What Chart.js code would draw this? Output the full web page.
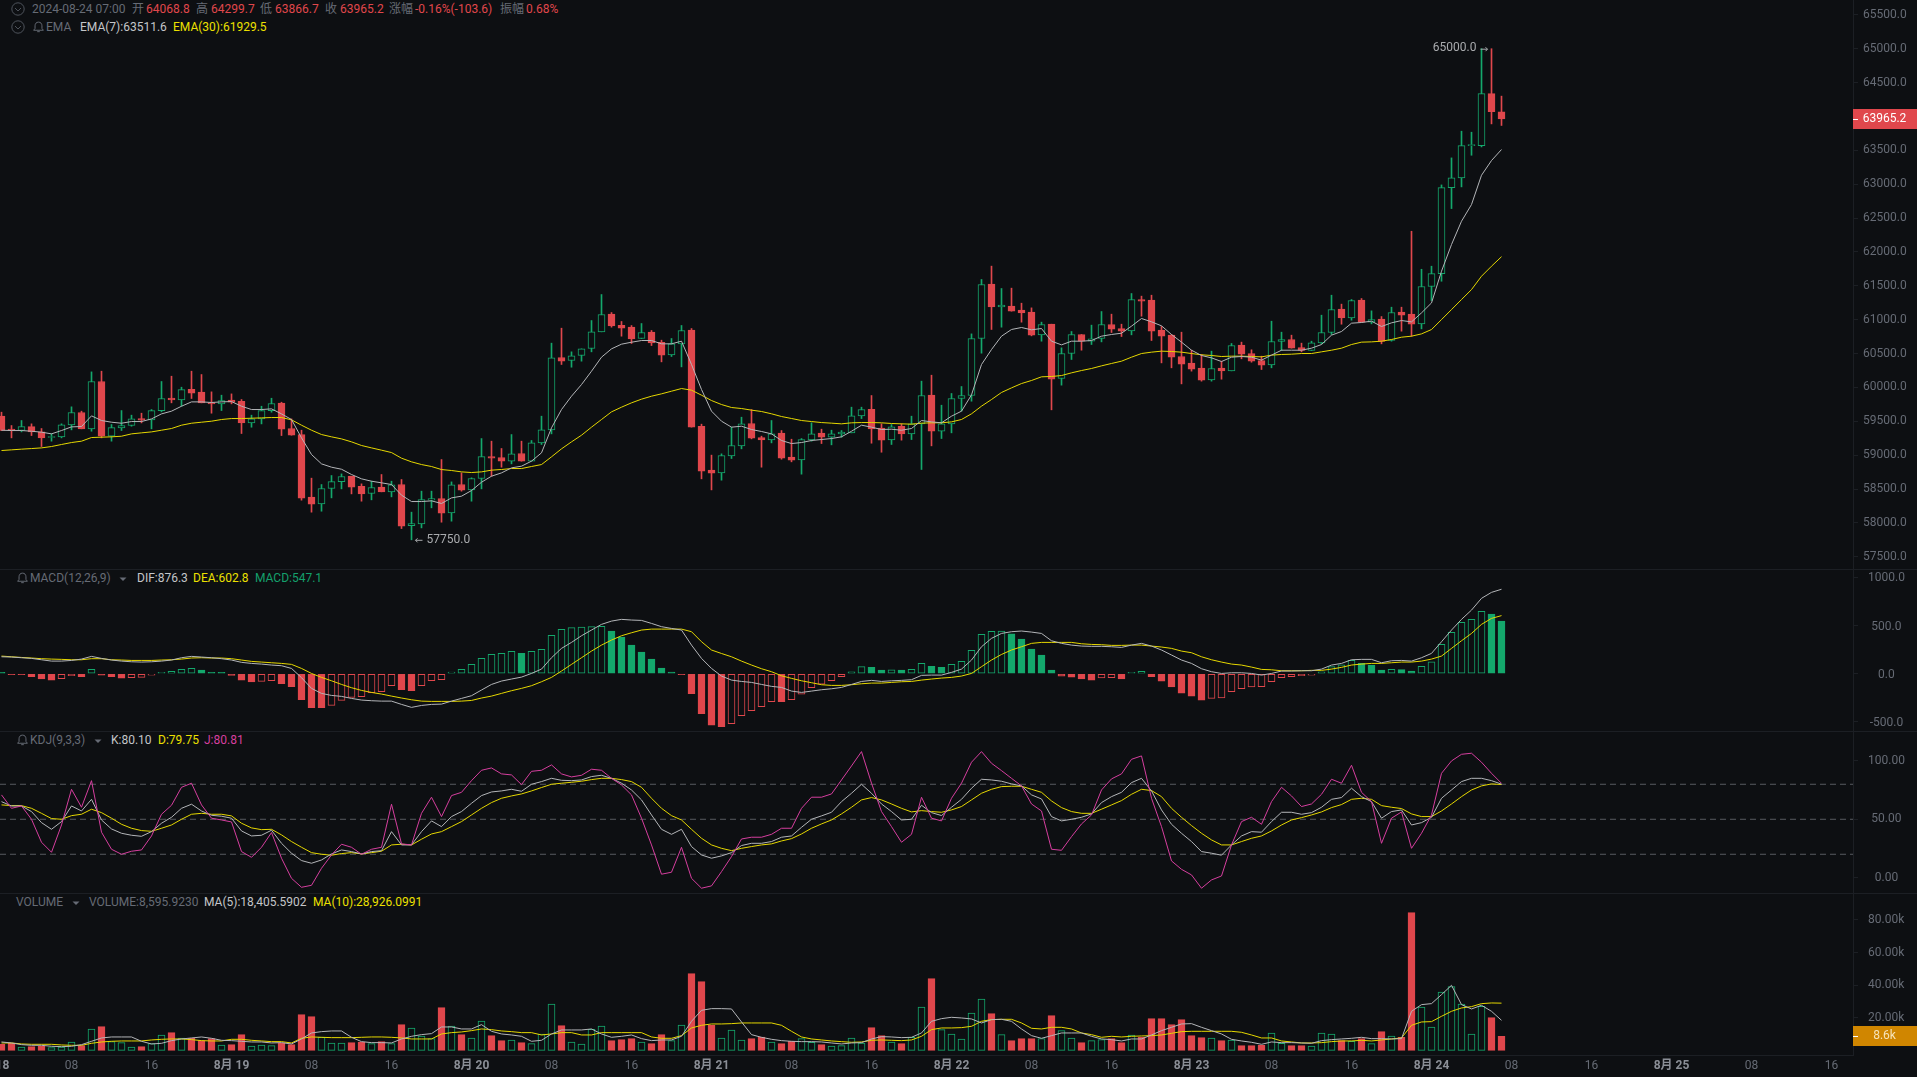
<!DOCTYPE html>
<html>
<head>
<meta charset="utf-8">
<title>BTC K-line</title>
<script src="https://cdn.jsdelivr.net/npm/chart.js@4/dist/chart.umd.min.js"></script>
<style>
    html, body { margin: 0; padding: 0; width: 1917px; height: 1077px; overflow: hidden; background: #0d0f12; }
    canvas { position: absolute; left: 0; }
    .sep { position: absolute; left: 0; width: 1917px; height: 1px; background: #1c1f24; }
    .t {
        position: absolute; white-space: nowrap; transform: translateY(-50%);
        font: 12px Roboto, "Noto Sans CJK SC", sans-serif; color: #666b75; line-height: 14px;
    }
    .red { color: #e0474c; }
    .soft { color: #c4c6c9; }
    .yel { color: #ece000; }
    .grn { color: #14a06c; }
    .pink { color: #d63f9f; }
    .ico { position: absolute; transform: translateY(-50%); }
</style>
</head>
<body>
<svg width="0" height="0" style="position:absolute">
    <symbol id="bell" viewBox="0 0 12 12"><path d="M6 1.5c-2 0-3.2 1.4-3.2 3.4v2.4L1.5 9h9L9.2 7.3V4.9C9.2 2.9 8 1.5 6 1.5zM4.8 10.3h2.4" fill="none" stroke="#666b75" stroke-width="0.9"/></symbol>
    <symbol id="fold" viewBox="0 0 14 14"><circle cx="7" cy="7" r="6.2" fill="none" stroke="#555a63" stroke-width="0.9"/><path d="M4 6l3 3 3-3" fill="none" stroke="#555a63" stroke-width="0.9"/></symbol>
    <symbol id="drop" viewBox="0 0 8 8"><path d="M0.5 2.5h7L4 6z" fill="#666b75"/></symbol>
</svg>

<svg class="ico" style="left:11px;top:9px" width="14" height="14"><use href="#fold"/></svg>
<span class="t" style="left:32px;top:9px">2024-08-24 07:00</span>
<span class="t" style="left:132px;top:9px">开</span><span class="t red" style="left:146px;top:9px">64068.8</span>
<span class="t" style="left:196px;top:9px">高</span><span class="t red" style="left:211px;top:9px">64299.7</span>
<span class="t" style="left:260px;top:9px">低</span><span class="t red" style="left:275px;top:9px">63866.7</span>
<span class="t" style="left:325px;top:9px">收</span><span class="t red" style="left:340px;top:9px">63965.2</span>
<span class="t" style="left:389px;top:9px">涨幅</span><span class="t red" style="left:415px;top:9px">-0.16%(-103.6)</span>
<span class="t" style="left:500px;top:9px">振幅</span><span class="t red" style="left:526px;top:9px">0.68%</span>

<svg class="ico" style="left:11px;top:27px" width="14" height="14"><use href="#fold"/></svg>
<svg class="ico" style="left:32px;top:27px" width="13" height="13"><use href="#bell"/></svg>
<span class="t" style="left:46px;top:27px">EMA</span>
<span class="t soft" style="left:80px;top:27px">EMA(7):63511.6</span>
<span class="t yel" style="left:173px;top:27px">EMA(30):61929.5</span>

<svg class="ico" style="left:16px;top:578px" width="13" height="13"><use href="#bell"/></svg>
<span class="t" style="left:30px;top:578px">MACD(12,26,9)</span>
<svg class="ico" style="left:119px;top:579px" width="8" height="8"><use href="#drop"/></svg>
<span class="t soft" style="left:137px;top:578px">DIF:876.3</span>
<span class="t yel" style="left:193px;top:578px">DEA:602.8</span>
<span class="t grn" style="left:255px;top:578px">MACD:547.1</span>

<svg class="ico" style="left:16px;top:740px" width="13" height="13"><use href="#bell"/></svg>
<span class="t" style="left:30px;top:740px">KDJ(9,3,3)</span>
<svg class="ico" style="left:94px;top:741px" width="8" height="8"><use href="#drop"/></svg>
<span class="t soft" style="left:111px;top:740px">K:80.10</span>
<span class="t yel" style="left:158px;top:740px">D:79.75</span>
<span class="t pink" style="left:204px;top:740px">J:80.81</span>

<span class="t" style="left:16px;top:902px">VOLUME</span>
<svg class="ico" style="left:72px;top:903px" width="8" height="8"><use href="#drop"/></svg>
<span class="t" style="left:89px;top:902px">VOLUME:8,595.9230</span>
<span class="t soft" style="left:204px;top:902px">MA(5):18,405.5902</span>
<span class="t yel" style="left:313px;top:902px">MA(10):28,926.0991</span>

<div class="sep" style="top:569px"></div>
<div class="sep" style="top:731px"></div>
<div class="sep" style="top:893px"></div>

<canvas id="priceChart" width="1917" height="569" style="top:0"></canvas>
<canvas id="macdChart" width="1917" height="161" style="top:570px"></canvas>
<canvas id="kdjChart" width="1917" height="161" style="top:732px"></canvas>
<canvas id="volumeChart" width="1917" height="183" style="top:894px"></canvas>

<script>
// Hourly candles, index 0 = 2024-08-18 01:00, last index = 2024-08-24 07:00
const candleOpen = [
    59575,59383,59363,59422,59343,59260,59270,59447,59629,59388,
    60087,59279,59403,59437,59540,59521,59658,59841,59816,59973,
    59929,59776,59757,59811,59796,59476,59535,59658,59767,59393,
    59304,58379,58281,58507,58610,58689,58541,58433,58527,58458,
    58566,57960,57985,58335,58360,58148,58566,58487,58655,58979,
    58965,58911,59024,58911,59181,59373,60441,60397,60471,60574,
    60820,61081,60918,60889,60722,60815,60667,60481,60643,60845,
    59427,58778,58738,58989,59137,59467,59260,59225,59324,58970,
    58930,59225,59324,59265,59314,59329,59580,59678,59398,59225,
    59427,59314,59462,59885,59353,59462,59836,59880,60722,61524,
    61189,61199,61140,61110,60776,60933,60131,60500,60781,60682,
    60722,60928,60869,60835,61297,61288,60845,60771,60456,60358,
    60284,60112,60284,60244,60623,60500,60397,60333,60677,60707,
    60589,60544,60658,60810,61155,61027,61288,60963,61007,60692,
    61110,61081,60937,61489,61680,62950,63093,63570,63570,64338,
    64068.8
];
const candleHigh = [
    59634,59437,59511,59462,59393,59314,59462,59713,59649,60229,
    60239,59452,59658,59590,59619,59673,60087,60165,60003,60239,
    60190,59934,59885,59904,59821,59590,59722,59840,59781,59535,
    59368,58660,58566,58699,58723,58689,58576,58615,58714,58615,
    58640,58158,58468,58468,58935,58605,58738,58665,59245,59206,
    59098,59304,59206,59216,59575,60653,60874,60525,60569,60987,
    61371,61105,60973,60913,60943,60840,60697,60722,60914,60869,
    59457,59000,59019,59413,59560,59673,59280,59511,59363,59235,
    59245,59477,59383,59368,59363,59708,59708,59880,59462,59452,
    59462,59575,60092,60180,59737,59910,60013,60790,61593,61790,
    61460,61465,61243,61174,60963,60933,60584,60825,60781,60919,
    61120,61081,60933,61386,61347,61361,60899,60781,60815,60549,
    60486,60535,60387,60648,60668,60555,60461,60977,60815,60771,
    60653,60682,61066,61361,61229,61297,61312,61130,61046,61184,
    61184,62305,61744,61789,62989,63388,63782,63767,65000,65000,
    64299.7
];
const candleLow = [
    59363,59255,59343,59289,59127,59206,59255,59373,59388,59353,
    59255,59206,59363,59427,59476,59388,59639,59772,59723,59836,
    59772,59619,59658,59757,59319,59412,59461,59634,59289,59294,
    58335,58158,58172,58369,58502,58428,58320,58340,58458,58384,
    57916,57750,57926,58222,58010,58025,58468,58320,58502,58689,
    58822,58871,58911,58911,59157,59314,60338,60298,60387,60525,
    60820,60889,60756,60648,60722,60618,60377,60456,60303,59413,
    58650,58487,58630,58950,59093,59240,58822,59181,58940,58901,
    58719,59206,59171,59152,59265,59329,59540,59176,59043,59157,
    59221,59230,58788,59137,59245,59329,59649,59796,60505,60855,
    60889,61125,60963,60761,60682,59669,60033,60412,60549,60633,
    60672,60810,60751,60776,61051,60692,60362,60289,60052,60240,
    60092,60092,60121,60244,60422,60372,60264,60289,60544,60579,
    60525,60544,60643,60781,60933,60992,60963,60938,60643,60682,
    60830,60755,60864,61282,61567,62640,62960,63427,63550,63890,
    63866.7
];
const candleClose = [
    59363,59363,59422,59343,59255,59275,59447,59629,59388,60087,
    59279,59407,59437,59535,59516,59658,59836,59816,59968,59914,
    59772,59757,59806,59781,59476,59535,59658,59762,59383,59294,
    58364,58276,58507,58610,58684,58527,58428,58522,58458,58561,
    57951,57990,58345,58360,58143,58561,58482,58655,58979,58955,
    58911,59019,58911,59181,59373,60436,60387,60466,60569,60820,
    61076,60909,60874,60717,60810,60658,60476,60643,60840,59413,
    58763,58733,58994,59142,59462,59250,59225,59314,58955,58925,
    59230,59314,59265,59314,59339,59580,59673,59388,59221,59417,
    59314,59462,59880,59353,59462,59836,59880,60722,61519,61189,
    61214,61125,61101,60771,60928,60121,60500,60781,60682,60717,
    60928,60860,60830,61297,61273,60830,60756,60446,60343,60269,
    60107,60279,60244,60618,60490,60387,60328,60677,60707,60579,
    60544,60658,60810,61150,61027,61283,60963,61002,60677,61106,
    61066,60933,61489,61680,62950,63093,63570,63585,64338,64068.8,
    63965.2
];
const ema7 = [
    59368,59363,59363,59353,59339,59314,59363,59417,59422,59580,
    59511,59486,59471,59496,59496,59535,59609,59649,59722,59786,
    59786,59777,59786,59791,59722,59673,59673,59683,59609,59526,
    59255,59009,58871,58822,58792,58714,58650,58615,58591,58566,
    58409,58315,58315,58325,58286,58369,58394,58477,58600,58689,
    58738,58812,58837,58911,59034,59403,59673,59870,60042,60239,
    60446,60569,60638,60667,60692,60692,60643,60643,60682,60338,
    59969,59649,59501,59413,59427,59378,59349,59314,59216,59171,
    59186,59216,59231,59245,59270,59353,59442,59413,59378,59383,
    59368,59393,59511,59491,59477,59575,59649,59890,60338,60559,
    60756,60855,60884,60850,60869,60682,60628,60682,60682,60692,
    60756,60781,60800,60904,61017,60968,60909,60781,60668,60549,
    60471,60436,60382,60446,60456,60446,60402,60476,60549,60549,
    60549,60579,60633,60771,60825,60948,60958,60978,60899,60953,
    60987,60967,61100,61247,61715,62109,62453,62699,63132,63349,
    63511.6
];
const ema30 = [
    59068,59078,59088,59097,59107,59127,59157,59186,59206,59260,
    59265,59270,59279,59314,59329,59343,59368,59393,59442,59471,
    59486,59501,59526,59540,59540,59545,59550,59555,59555,59521,
    59442,59368,59304,59270,59240,59196,59142,59107,59073,59038,
    58955,58901,58861,58832,58787,58773,58753,58743,58753,58778,
    58788,58802,58802,58832,58861,58975,59093,59196,59294,59413,
    59526,59639,59708,59772,59826,59870,59905,59944,59983,59959,
    59885,59806,59747,59703,59688,59664,59644,59610,59570,59541,
    59511,59496,59481,59472,59462,59477,59481,59481,59477,59467,
    59462,59457,59472,59477,59477,59491,59526,59610,59723,59821,
    59925,59993,60057,60102,60156,60161,60175,60215,60249,60279,
    60318,60353,60387,60446,60500,60520,60535,60530,60520,60500,
    60481,60471,60456,60461,60461,60456,60451,60476,60486,60490,
    60500,60500,60525,60549,60579,60633,60668,60672,60682,60707,
    60741,60756,60790,60854,61001,61149,61297,61444,61641,61789,
    61929.5
];
const dif = [
    176,173,166,159,145,131,131,138,152,180,
    159,142,131,124,121,124,131,142,166,180,
    173,166,156,142,118,107,100,90,83,55,
    -41,-152,-204,-225,-235,-256,-273,-280,-284,-284,
    -318,-349,-329,-318,-315,-284,-256,-228,-169,-111,
    -76,-55,-35,3,48,166,263,325,394,453,
    512,546,564,557,553,522,488,470,453,297,
    159,55,-24,-66,-80,-90,-111,-131,-142,-180,
    -194,-180,-166,-156,-142,-111,-80,-69,-80,-73,
    -69,-62,-17,-14,-14,14,48,142,280,367,
    418,436,443,432,418,342,315,297,287,284,
    284,280,273,297,315,287,246,194,142,107,
    52,21,3,10,10,3,-14,3,28,28,
    31,31,48,90,107,145,149,149,114,135,
    138,131,166,211,332,453,564,660,782,844,
    876.3
];
const dea = [
    183,176,169,163,156,152,149,145,145,156,
    156,145,142,138,138,138,142,145,152,163,
    166,163,163,156,142,128,121,114,107,97,
    55,3,-38,-73,-111,-145,-173,-194,-211,-232,
    -252,-270,-284,-287,-287,-287,-284,-277,-252,-232,
    -204,-176,-152,-124,-83,-38,28,97,166,235,
    297,349,394,425,453,463,463,463,463,436,
    332,246,210,176,131,90,52,21,-21,-48,
    -73,-93,-114,-121,-121,-114,-104,-97,-97,-90,
    -83,-80,-66,-55,-45,-38,-24,3,73,142,
    200,246,280,315,325,325,325,325,311,304,
    301,294,294,297,297,287,277,263,235,218,
    176,145,121,100,90,69,45,41,31,31,
    31,35,35,48,66,90,100,107,107,114,
    121,121,131,152,183,263,342,418,512,574,
    602.8
];
const macdHist = [
    14,-10,-10,-31,-55,-66,-52,-21,-31,45,
    -14,-31,-45,-41,-38,-14,14,24,45,55,
    38,14,14,-17,-66,-86,-80,-73,-104,-135,
    -270,-353,-353,-329,-277,-245,-239,-197,-187,-124,
    -166,-176,-124,-73,-62,17,45,97,159,200,
    211,232,211,232,252,398,460,478,484,488,
    491,443,380,297,225,152,59,17,-10,-207,
    -415,-533,-550,-519,-436,-384,-342,-290,-290,-270,
    -211,-145,-107,-73,-31,21,73,66,38,41,
    38,45,107,76,66,97,128,242,408,439,
    443,415,360,256,194,38,-24,-35,-55,-66,
    -44,-41,-55,14,24,-31,-76,-138,-201,-232,
    -273,-256,-252,-187,-156,-138,-135,-83,-41,-31,
    -21,-14,21,73,93,138,107,90,38,45,
    42,28,76,124,304,429,533,564,647,619,
    547.1
];
const kdjK = [
    65.1,61.4,61.4,56.6,47.1,41.4,48.0,61.4,57.1,67.1,
    49.4,41.7,38.0,36.3,35.4,39.4,46.6,51.7,59.4,62.9,
    57.1,53.4,52.6,50.9,40.0,35.7,36.3,40.6,29.4,20.9,
    14.6,12.3,15.1,20.3,23.7,22.3,20.3,22.3,23.1,39.4,
    28.0,28.0,39.4,48.6,43.7,52.3,56.6,63.7,70.3,73.4,
    74.3,75.7,74.0,80.0,82.3,85.1,83.4,83.1,83.7,86.6,
    87.7,85.1,80.9,75.1,66.6,53.7,41.4,37.1,41.4,26.6,
    19.4,16.6,18.6,21.4,27.5,29.4,29.4,30.9,34.6,35.7,
    43.1,50.0,52.9,56.0,65.1,72.3,80.0,72.3,63.1,56.6,
    49.4,50.0,62.0,55.7,53.2,60.3,67.1,76.6,84.3,83.7,
    82.6,80.3,78.6,70.9,67.4,52.3,48.6,50.0,51.7,54.6,
    64.3,69.4,73.1,81.4,85.1,74.3,58.0,45.7,38.0,30.9,
    22.3,20.9,19.2,28.0,35.7,39.4,38.9,48.0,56.0,56.0,
    54.3,55.7,60.3,67.1,68.6,76.6,69.4,65.1,50.9,56.6,
    58.0,45.1,47.1,51.7,68.0,75.1,82.3,85.1,85.1,83.1,
    80.10
];
const kdjD = [
    62.3,61.7,61.7,59.4,55.1,50.6,50.0,53.1,54.3,58.6,
    55.7,50.9,45.7,42.3,40.3,39.7,42.3,45.1,50.0,54.3,
    55.1,54.3,54.3,52.9,46.6,42.6,41.1,41.4,36.6,30.9,
    26.0,21.4,20.0,19.2,20.6,21.4,20.3,21.4,22.6,28.0,
    28.6,28.0,32.9,37.4,39.4,43.7,48.0,53.7,59.4,64.3,
    68.0,70.0,71.7,74.3,77.2,80.0,80.9,81.7,82.6,84.0,
    85.1,85.1,84.0,82.3,77.4,68.0,59.4,53.1,49.4,41.4,
    33.7,28.0,25.1,23.1,25.1,26.6,28.0,28.9,31.4,33.4,
    37.4,42.3,46.0,49.4,54.6,60.3,66.6,68.6,66.6,63.1,
    59.4,56.3,57.4,56.6,56.0,58.0,60.9,66.6,72.3,75.7,
    78.0,78.3,78.3,75.7,73.1,65.7,60.0,56.6,55.1,55.1,
    58.6,62.3,66.0,71.4,75.7,74.6,69.4,59.4,51.7,44.6,
    38.0,32.3,28.0,28.0,30.9,33.7,35.7,40.0,45.1,49.4,
    51.4,53.7,56.3,60.0,62.6,67.1,68.0,67.1,61.7,60.3,
    59.2,54.6,52.3,52.3,57.1,63.1,69.4,75.1,78.6,80.3,
    79.75
];
const kdjJ = [
    70.9,59.4,61.4,50.0,30.3,21.7,45.1,75.7,60.3,83.1,
    38.9,24.3,20.0,22.6,23.7,35.7,54.3,62.0,77.4,80.9,
    62.3,50.9,49.4,47.7,22.3,17.4,26.0,38.6,16.6,-0.6,
    -8.3,-6.6,8.0,19.4,28.6,26.0,20.0,24.3,26.0,62.9,
    28.9,28.0,55.1,68.9,52.3,70.3,73.1,83.1,92.0,94.0,
    88.9,88.0,79.7,91.1,92.0,96.6,88.9,86.3,87.7,92.9,
    92.0,85.1,79.4,70.9,50.9,28.0,2.9,4.6,26.0,-0.6,
    -9.1,-7.1,5.1,18.0,33.1,34.6,34.6,37.1,42.3,42.3,
    59.4,68.9,68.9,71.7,83.7,95.7,108.0,80.9,56.6,43.7,
    30.3,37.1,68.9,50.9,48.6,68.0,80.9,98.9,108.0,98.0,
    91.7,85.1,78.6,63.1,57.1,24.3,23.4,35.1,46.0,53.7,
    75.1,84.6,88.9,101.4,104.3,68.0,43.7,14.3,7.1,2.3,
    -9.1,-2.0,1.4,28.0,48.0,51.7,45.7,65.1,77.4,70.0,
    60.9,63.1,71.4,84.3,80.9,96.3,73.1,65.1,29.4,50.9,
    56.3,25.1,38.0,53.7,89.4,100.0,105.7,106.6,98.9,89.4,
    80.81
];
const volume = [
    3681,4499,2045,2250,2454,1636,2045,5113,2863,13088,
    14520,5317,4704,2045,2250,4090,9407,10839,7567,7362,
    5931,7158,3272,3477,9612,2659,3272,2863,4499,3477,
    21882,20655,7976,4499,4499,4704,5113,4090,5317,4090,
    15747,13702,8794,7158,26176,14929,9612,7567,17996,8998,
    5931,6340,4704,4090,10021,28426,15133,5113,3886,12884,
    14929,5931,6544,7158,5113,4090,9612,5931,15542,47035,
    42127,15338,7567,12475,6340,7158,8180,5113,4090,5522,
    7158,4908,3477,2659,2863,7567,4499,13906,8998,5113,
    4090,7976,26585,43968,12679,10021,6953,22904,31493,22495,
    9612,5931,7158,7158,7158,21268,12066,7567,4704,5931,
    6544,7158,4704,9407,7976,19428,19428,15747,18814,8998,
    7771,7567,5931,6340,2863,2863,3068,10634,4295,2863,
    2863,2659,10634,10021,5931,5522,7158,4090,11452,8794,
    7976,84459,26585,14315,35788,39060,28426,10021,26994,20041,
    8595.9
];
const volumeMa5 = [
    5113,4499,3477,3068,3068,2454,2250,2454,3477,5522,
    7567,8180,8180,8180,5522,3886,4295,5931,6953,7567,
    8180,7362,6135,5931,5522,5113,5113,4499,4704,3886,
    6953,10634,11452,11861,11861,7976,5317,4704,4704,4499,
    6953,8589,9612,10225,14315,14315,13088,13088,15747,11657,
    10021,9407,8589,5522,6135,10021,12475,12475,12475,13088,
    10021,7976,8589,9407,7158,5931,6340,6340,8589,17792,
    24540,25563,25563,25358,17383,9612,7976,6749,5931,5522,
    5317,5317,5113,4499,3886,4499,4704,6953,8385,8180,
    7771,7976,10634,17792,19428,20246,19837,19223,16769,18814,
    19019,17792,13088,8998,7362,8998,10634,10634,10634,8589,
    6953,6544,5726,6953,6953,9407,12066,14111,16156,16360,
    14111,12066,10021,6749,5726,4908,3681,5113,4704,4704,
    4499,4295,5931,6544,6953,7362,7976,7158,7158,6953,
    7158,23927,28017,28630,34152,39878,28017,25358,27608,23927,
    18405.6
];
const volumeMa10 = [
    4499,4499,3886,3681,3681,3681,3272,3068,3068,4295,
    5113,5522,5726,5726,5726,6340,6749,6953,6953,6544,
    5931,5726,5726,6749,6749,6135,5726,5317,5317,4499,
    7362,8180,7976,7771,7771,7771,7976,8180,8180,7976,
    7567,6953,6953,6953,10021,10839,11248,12066,13088,12679,
    11861,11452,10839,10839,9407,10021,10839,10839,9407,9407,
    10839,10839,10839,10839,10839,8180,7362,7362,8998,13702,
    15338,16156,16156,16360,16769,16769,16769,16769,15338,11657,
    8180,6953,6340,5726,5317,4908,5113,6135,6340,6135,
    5931,6340,8589,12679,13702,13702,13906,14724,17792,18814,
    19019,19019,16769,13497,13088,14111,14111,13088,10634,9612,
    7976,8589,8180,8589,8794,8998,9407,10430,11452,11657,
    11657,11657,11657,11657,11043,9407,7567,7567,5726,5113,
    4499,4499,4704,5317,5726,5726,6135,5726,6340,6953,
    7567,15338,17383,17587,20859,23927,25972,26790,28630,29039,
    28926.1
];

const priceTicks = [57500,58000,58500,59000,59500,60000,60500,61000,61500,62000,62500,63000,63500,64000,64500,65000,65500];
const macdTicks = [-500,0,500,1000];
const kdjTicks = [0,50,100];
const kdjGuides = [20,50,80];
const volumeTicks = [20000,40000,60000,80000];
const timeTicks = [-1,7,15,23,31,39,47,55,63,71,79,87,95,103,111,119,127,135,143,151,159,167,175,183];
const timeLabels = ['8月 18','08','16','8月 19','08','16','8月 20','08','16','8月 21','08','16','8月 22','08','16','8月 23','08','16','8月 24','08','16','8月 25','08','16'];
const highMark = { index: 149, value: 65000 };
const lowMark = { index: 41, value: 57750 };

const colors = {
    bg: '#0d0f12',
    up: '#14a86c',
    down: '#e0474c',
    axis: '#1c1f24',
    tick: '#666b75',
    date: '#8b8f97',
    grey: '#b4b6b9',
    yellow: '#e6d800',
    pink: '#d63f9f',
    guide: '#565a60',
    mark: '#a9abae',
    volumeTag: '#d08600',
    volumeTagText: '#f6e3b8'
};

Chart.defaults.font.family = 'Roboto, "Noto Sans CJK SC", sans-serif';
Chart.defaults.font.size = 12;

// every panel shares the same index axis, one candle = 10px
const xMin = -0.15;
const xMax = 185.15;

const points = (values) => values.map((y, x) => ({ x, y }));
const lastOf = (values) => values[values.length - 1];
const isDateTick = (ctx) => (timeLabels[ctx.index] || '').includes('月');

function lineSet(values, color) {
    return {
        type: 'line',
        data: points(values),
        borderColor: color,
        borderWidth: 1,
        pointRadius: 0,
        tension: 0,
        order: 0
    };
}

function yAxis(ticks, min, max, format, padding, labelOffset) {
    return {
        position: 'right',
        min,
        max,
        afterBuildTicks: (scale) => { scale.ticks = ticks.map((value) => ({ value })); },
        afterFit: (scale) => {
            scale.width = 64;
            scale.paddingTop = 0;
            scale.paddingBottom = 0;
        },
        border: { color: colors.axis },
        grid: { drawOnChartArea: false, tickLength: 5, tickColor: colors.axis },
        ticks: {
            color: colors.tick,
            padding,
            crossAlign: 'center',
            autoSkip: false,
            labelOffset,
            callback: format
        }
    };
}

function baseOptions(y) {
    return {
        responsive: false,
        animation: false,
        events: [],
        layout: { padding: 0 },
        plugins: { legend: { display: false }, tooltip: { enabled: false } },
        datasets: { bar: { grouped: false } },
        scales: {
            x: { type: 'linear', display: false, offset: false, min: xMin, max: xMax },
            y
        }
    };
}

function drawTag(chart, value, text, fill, textColor) {
    const { ctx, chartArea, scales } = chart;
    const y = scales.y.getPixelForValue(value);
    ctx.save();
    ctx.fillStyle = fill;
    ctx.fillRect(chartArea.right, Math.round(y) - 10, chart.width - chartArea.right, 20);
    ctx.fillStyle = '#ffffff';
    ctx.fillRect(chartArea.right, Math.round(y), 5, 1);
    ctx.fillStyle = textColor;
    ctx.font = '12px Roboto';
    ctx.textAlign = 'center';
    ctx.textBaseline = 'middle';
    ctx.fillText(text, 1884.5, y);
    ctx.restore();
}

const priceMarks = {
    id: 'priceMarks',
    afterDraw(chart) {
        const { ctx, scales } = chart;
        ctx.save();
        ctx.font = '12px Roboto';
        ctx.fillStyle = colors.mark;
        ctx.strokeStyle = colors.mark;
        ctx.lineWidth = 1;
        ctx.textBaseline = 'middle';

        let x = scales.x.getPixelForValue(highMark.index);
        let y = scales.y.getPixelForValue(highMark.value);
        ctx.textAlign = 'right';
        ctx.fillText(highMark.value.toFixed(1), x - 15, y - 1);
        ctx.beginPath();
        ctx.moveTo(x - 11, y + 0.5); ctx.lineTo(x - 4, y + 0.5);
        ctx.moveTo(x - 6, y - 1.5); ctx.lineTo(x - 4, y + 0.5); ctx.lineTo(x - 6, y + 2.5);
        ctx.stroke();

        x = scales.x.getPixelForValue(lowMark.index);
        y = scales.y.getPixelForValue(lowMark.value);
        ctx.textAlign = 'left';
        ctx.fillText(lowMark.value.toFixed(1), x + 15, y);
        ctx.beginPath();
        ctx.moveTo(x + 11, y + 0.5); ctx.lineTo(x + 4, y + 0.5);
        ctx.moveTo(x + 6, y - 1.5); ctx.lineTo(x + 4, y + 0.5); ctx.lineTo(x + 6, y + 2.5);
        ctx.stroke();
        ctx.restore();

        const close = lastOf(candleClose);
        drawTag(chart, close, close.toFixed(1), colors.down, '#ffffff');
    }
};

const volumeTag = {
    id: 'volumeTag',
    afterDraw(chart) {
        const last = lastOf(volume);
        drawTag(chart, last, (last / 1000).toFixed(1) + 'k', colors.volumeTag, colors.volumeTagText);
    }
};

const candleColor = (i) => (candleClose[i] >= candleOpen[i] ? colors.up : colors.down);

new Chart(document.getElementById('priceChart'), {
    type: 'bar',
    data: {
        datasets: [
            lineSet(ema7, colors.grey),
            lineSet(ema30, colors.yellow),
            {
                // bodies, hollow when the candle closed up
                data: candleOpen.map((o, x) => ({ x, y: [o, candleClose[x]] })),
                barThickness: 7,
                borderWidth: 1,
                borderSkipped: false,
                borderColor: candleClose.map((c, i) => candleColor(i)),
                backgroundColor: candleClose.map((c, i) => (c >= candleOpen[i] ? colors.bg : colors.down)),
                order: 1
            },
            {
                // wicks
                data: candleLow.map((l, x) => ({ x, y: [l, candleHigh[x]] })),
                barThickness: 1,
                borderWidth: 0,
                backgroundColor: candleClose.map((c, i) => candleColor(i)),
                order: 2
            }
        ]
    },
    options: baseOptions(yAxis(priceTicks, 57319, 65719, (v) => v.toFixed(1), 5, 0)),
    plugins: [priceMarks]
});

new Chart(document.getElementById('macdChart'), {
    type: 'bar',
    data: {
        datasets: [
            lineSet(dif, colors.grey),
            lineSet(dea, colors.yellow),
            {
                data: points(macdHist),
                barThickness: 7,
                borderWidth: 1,
                borderSkipped: false,
                borderColor: macdHist.map((v) => (v >= 0 ? colors.up : colors.down)),
                // hollow while the histogram is rising
                backgroundColor: macdHist.map((v, i) => {
                    if (i > 0 && v > macdHist[i - 1]) return colors.bg;
                    return v >= 0 ? colors.up : colors.down;
                }),
                order: 1
            }
        ]
    },
    options: baseOptions(yAxis(macdTicks, -594, 1076, (v) => v.toFixed(1), 10, 1))
});

new Chart(document.getElementById('kdjChart'), {
    type: 'line',
    data: {
        datasets: [
            ...kdjGuides.map((level) => ({
                data: [{ x: xMin, y: level }, { x: xMax, y: level }],
                borderColor: colors.guide,
                borderWidth: 1,
                borderDash: [6, 4],
                pointRadius: 0,
                order: 3
            })),
            lineSet(kdjJ, colors.pink),
            lineSet(kdjK, colors.grey),
            lineSet(kdjD, colors.yellow)
        ]
    },
    options: baseOptions(yAxis(kdjTicks, -13.2, 124.8, (v) => v.toFixed(2), 10, 0))
});

const volumeOptions = baseOptions(yAxis(volumeTicks, -2883, 95890, (v) => (v / 1000).toFixed(2) + 'k', 10, 0));
volumeOptions.scales.x = {
    type: 'linear',
    offset: false,
    min: xMin,
    max: xMax,
    afterBuildTicks: (scale) => { scale.ticks = timeTicks.map((value) => ({ value })); },
    afterFit: (scale) => {
        scale.height = 22;
        scale.paddingLeft = 0;
        scale.paddingRight = 0;
    },
    border: { color: colors.axis },
    grid: { display: false, drawTicks: false },
    ticks: {
        autoSkip: false,
        maxRotation: 0,
        minRotation: 0,
        padding: 4,
        callback: (value, index) => timeLabels[index],
        color: (ctx) => (isDateTick(ctx) ? colors.date : colors.tick),
        font: (ctx) => ({ size: 12, weight: isDateTick(ctx) ? 'bold' : 'normal' })
    }
};

new Chart(document.getElementById('volumeChart'), {
    type: 'bar',
    data: {
        datasets: [
            lineSet(volumeMa5, colors.grey),
            lineSet(volumeMa10, colors.yellow),
            {
                data: points(volume),
                barThickness: 7,
                borderWidth: 1,
                borderSkipped: false,
                borderColor: volume.map((v, i) => candleColor(i)),
                backgroundColor: volume.map((v, i) => (candleClose[i] >= candleOpen[i] ? colors.bg : colors.down)),
                order: 1
            }
        ]
    },
    options: volumeOptions,
    plugins: [volumeTag]
});
</script>
</body>
</html>
